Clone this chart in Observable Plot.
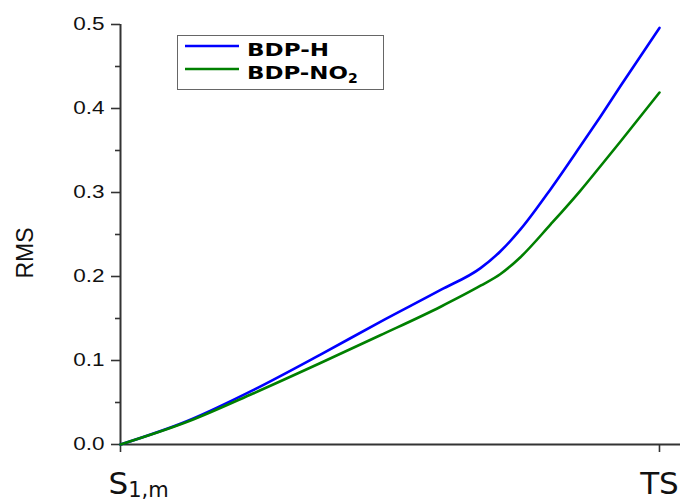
<!DOCTYPE html>
<html>
<head>
<meta charset="utf-8">
<script src="https://cdn.jsdelivr.net/npm/d3@7"></script>
<script src="https://cdn.jsdelivr.net/npm/@observablehq/plot@0.6"></script>
<style>
  html, body { margin: 0; padding: 0; background: #fff; }
  #chart { width: 680px; height: 502px; }
</style>
</head>
<body>
<div id="chart"></div>
<script>
// Reaction coordinate (S1,m = 0, TS = 1)
const coord  = [0, 0.124, 0.247, 0.371, 0.482, 0.594, 0.668, 0.705, 0.742, 0.798, 0.853, 0.890, 0.928, 1];
const bdpH   = [0, 0.028, 0.065, 0.107, 0.146, 0.184, 0.210, 0.230, 0.256, 0.304, 0.355, 0.390, 0.427, 0.496];
const bdpNO2 = [0, 0.027, 0.061, 0.097, 0.130, 0.164, 0.189, 0.203, 0.223, 0.262, 0.302, 0.331, 0.361, 0.419];

const seriesNames = ["BDP-H", "BDP-NO2"];
const seriesColors = ["#0000ff", "#008000"];

const xTicks = [0, 1];
const xTickLabels = ["S", "TS"];
const yMajor = [0, 0.1, 0.2, 0.3, 0.4, 0.5];
const yMinor = [0.05, 0.15, 0.25, 0.35, 0.45];
const yLabel = "RMS";

const rows = [];
coord.forEach((c, i) => {
  rows.push({x: c, y: bdpH[i], s: seriesNames[0]});
  rows.push({x: c, y: bdpNO2[i], s: seriesNames[1]});
});

const axisColor = "#333";

const plot = Plot.plot({
  width: 680,
  height: 502,
  marginLeft: 120,
  marginRight: 0,
  marginTop: 24,
  marginBottom: 58,
  style: {fontFamily: "'Liberation Sans', Arial, sans-serif", color: axisColor, background: "#fff"},
  x: {domain: [0, 1.039]},
  y: {domain: [0, 0.5]},
  color: {domain: seriesNames, range: seriesColors},
  marks: [
    Plot.axisY({ticks: yMinor, tickSize: 5, tickFormat: () => "", label: null, strokeWidth: 1.6}),
    Plot.axisY({ticks: yMajor, tickSize: 9, tickPadding: 7, tickFormat: d3.format(".1f"),
                fontSize: 18, label: null, strokeWidth: 1.6}),
    Plot.axisX({ticks: xTicks, tickSize: 8, tickPadding: 19, label: null, strokeWidth: 1.6,
                tickFormat: d => xTickLabels[xTicks.indexOf(d)],
                fontSize: 31, fontFamily: "'DejaVu Sans', Verdana, sans-serif", fill: "#111"}),
    Plot.ruleY([0], {stroke: axisColor, strokeWidth: 2}),
    Plot.ruleX([0], {stroke: axisColor, strokeWidth: 2}),
    Plot.line(rows, {x: "x", y: "y", z: "s", stroke: "s", strokeWidth: 2.6, curve: "monotone-x"})
  ]
});

document.getElementById("chart").appendChild(plot);
const svg = d3.select(plot);

// stretch y tick labels horizontally like the reference
svg.selectAll('g[aria-label="y-axis tick label"] text').each(function() {
  const w = this.getComputedTextLength();
  if (w > 0) {
    d3.select(this).attr("textLength", w * 1.25).attr("lengthAdjust", "spacingAndGlyphs").attr("fill", "#111");
  }
});

// subscript on S1,m
svg.selectAll('g[aria-label="x-axis tick label"] text').each(function() {
  if (this.textContent === "S") {
    const t = d3.select(this);
    t.attr("text-anchor", "start").attr("dx", -12);
    t.append("tspan").attr("font-size", 21).attr("dy", 3).text("1,m");
  }
});

// y axis title
svg.append("text")
  .attr("transform", "translate(33,253) rotate(-90)")
  .attr("text-anchor", "middle")
  .attr("font-family", "'Liberation Sans', Arial, sans-serif")
  .attr("font-size", 23).attr("fill", "#111")
  .text(yLabel);

// legend box
const lg = svg.append("g").attr("class", "legend").attr("text-anchor", "start");
lg.append("rect").attr("x", 177.5).attr("y", 35.5).attr("width", 206).attr("height", 54)
  .attr("fill", "#fff").attr("stroke", "#666").attr("stroke-width", 1);
const rowsY = [46, 69];
seriesNames.forEach((n, i) => {
  lg.append("line").attr("x1", 185).attr("x2", 239).attr("y1", rowsY[i]).attr("y2", rowsY[i])
    .attr("stroke", seriesColors[i]).attr("stroke-width", 2.6);
  const tx = lg.append("text").attr("x", 247).attr("y", rowsY[i] + 10)
    .attr("text-anchor", "start")
    .attr("font-family", "'DejaVu Sans', Verdana, sans-serif").attr("font-weight", "bold")
    .attr("font-size", 18).attr("fill", "#000");
  if (i === 0) {
    tx.attr("textLength", 82).attr("lengthAdjust", "spacingAndGlyphs").text(n);
  } else {
    tx.append("tspan").attr("textLength", 101).attr("lengthAdjust", "spacingAndGlyphs").text("BDP-NO");
    tx.append("tspan").attr("font-size", 14).attr("dy", 4).text("2");
  }
});
</script>
</body>
</html>
